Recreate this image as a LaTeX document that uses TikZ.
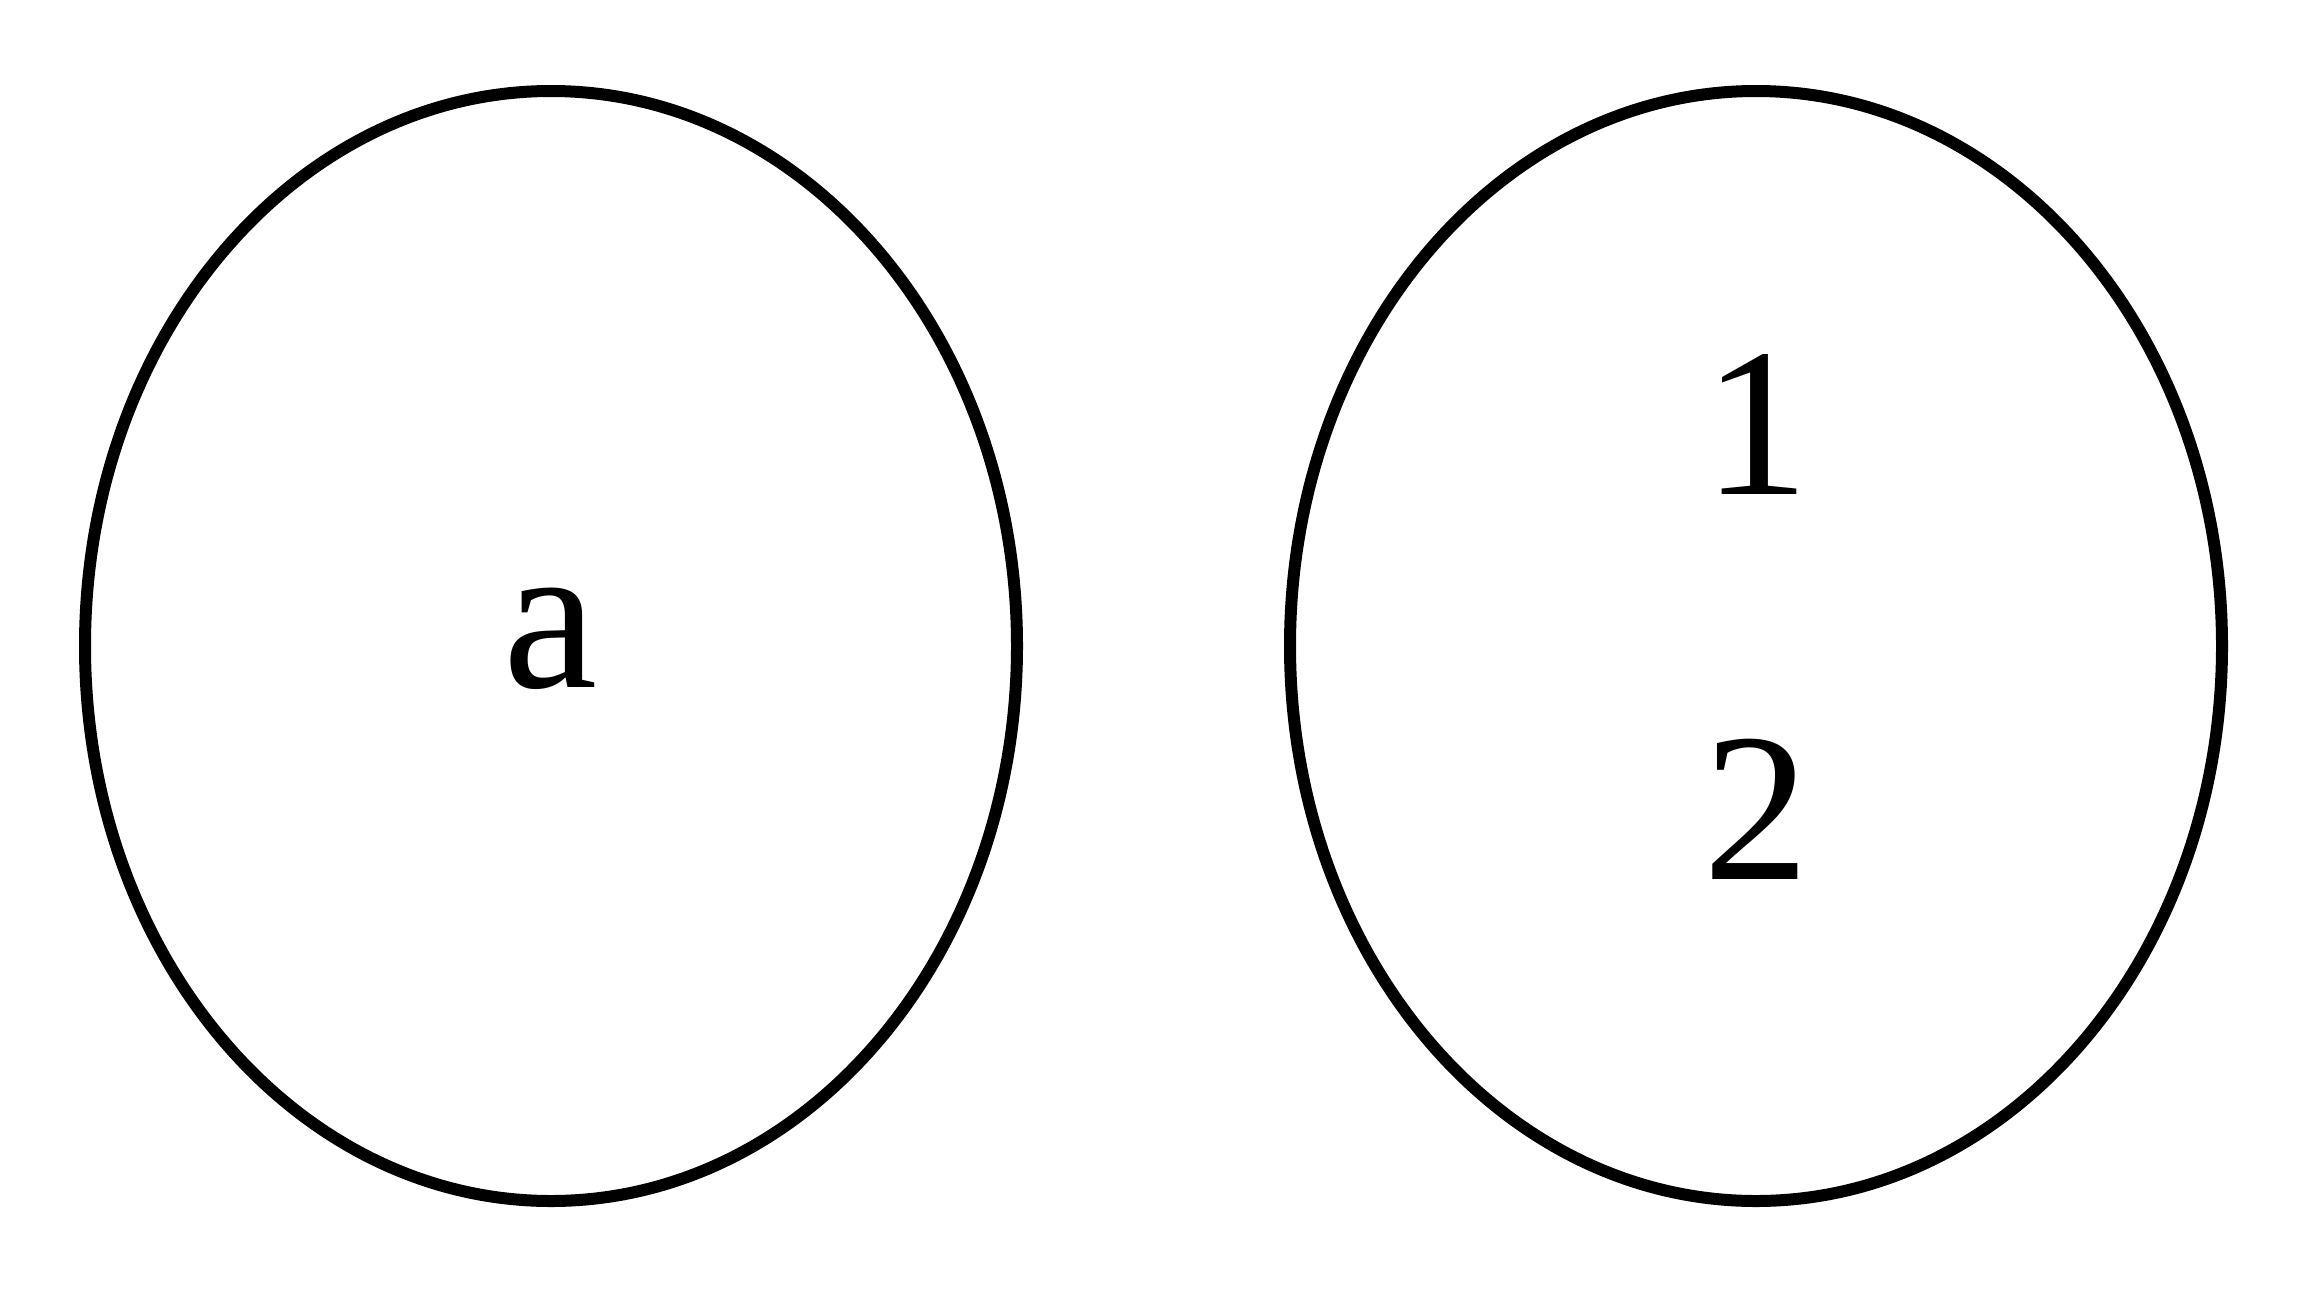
\documentclass[tikz,border=0pt]{standalone}
\usepackage{fontspec}
\setmainfont{LiberationSerif-Regular.ttf}
\usetikzlibrary{shapes.geometric}
\tikzset{
    set/.style={draw=black,line width=12pt,ellipse,inner sep=0pt,
        minimum width=932pt,minimum height=1110pt},
    elem/.style={anchor=base,inner sep=0pt,font=\fontsize{212}{250}\selectfont}
}
\begin{document}
\begin{tikzpicture}[x=1pt,y=-1pt]
        \useasboundingbox (0,0) rectangle (2312,1288);
        %% Sets
        \node[set] (dom) at (551,646)  {};
        \node[set] (cod) at (1756,646) {};
        %% Elements
        \node[elem] (a) at (551,687)  {a};
        \node[elem] (one) at (1756,494) {1};
        \node[elem] (two) at (1756,879) {2};
    \end{tikzpicture}
\end{document}
